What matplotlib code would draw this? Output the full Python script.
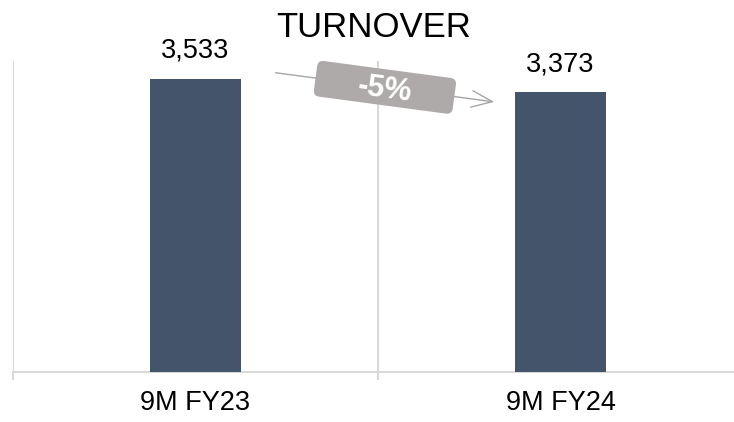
import math
import matplotlib
matplotlib.use("Agg")
import matplotlib.pyplot as plt
from matplotlib.patches import FancyBboxPatch
from matplotlib.transforms import Affine2D

# data
categories = ["9M FY23", "9M FY24"]
turnover = [3533, 3373]
change_label = "-5%"

plt.rcParams["font.family"] = ["Liberation Sans", "DejaVu Sans"]

BAR_COLOR = "#44546A"
GRID_COLOR = "#D9D9D9"
ARROW_COLOR = "#A6A6A6"
BOX_COLOR = "#AEAAAA"

W, H = 734, 422
fig = plt.figure(figsize=(W / 100, H / 100), dpi=100)
ax = fig.add_axes([13 / W, 1 - 372 / H, 730 / W, (372 - 61) / H])

x = list(range(len(categories)))
ax.bar(x, turnover, width=0.25, color=BAR_COLOR, zorder=3)
ax.set_xlim(-0.5, len(categories) - 0.5)
ax.set_ylim(0, 3745)

# value labels
for xi, v in zip(x, turnover):
    ax.annotate(f"{v:,}", (xi, v), xytext=(0, 15), textcoords="offset points",
                ha="center", va="baseline", fontsize=19.5, color="black")

# axes styling
for s in ["top", "right", "left"]:
    ax.spines[s].set_visible(False)
ax.spines["bottom"].set_color(GRID_COLOR)
ax.spines["bottom"].set_linewidth(1.5)
ax.set_yticks([])
ax.set_xticks(x)
ax.set_xticklabels(categories, fontsize=19.5)
ax.tick_params(axis="x", which="major", length=0, pad=13)
bounds = [i - 0.5 for i in range(len(categories) + 1)]
ax.set_xticks(bounds, minor=True)
ax.tick_params(axis="x", which="minor", length=6, width=1.5, color=GRID_COLOR)
ax.grid(axis="x", which="minor", color=GRID_COLOR, linewidth=1.5, zorder=0)
ax.grid(axis="x", which="major", visible=False)

# change arrow between bars
start = (0.212, turnover[0] + 75)
end = (0.826, turnover[1] - 125)
ax.annotate("", xy=end, xytext=start,
            arrowprops=dict(arrowstyle="->,head_length=1.5,head_width=0.6",
                            color=ARROW_COLOR, lw=1.0), zorder=4)

# rotated label box on the arrow
p0 = ax.transData.transform(start)
p1 = ax.transData.transform(end)
cx, cy = (p0 + p1) / 2
ang = math.degrees(math.atan2(p1[1] - p0[1], p1[0] - p0[0]))
bw, bh = 140, 36
box = FancyBboxPatch((-bw / 2, -bh / 2), bw, bh,
                     boxstyle="round,pad=0,rounding_size=6",
                     facecolor=BOX_COLOR, edgecolor="none",
                     transform=Affine2D().rotate_deg(ang).translate(cx, cy),
                     zorder=5)
fig.patches.append(box)
fig.text(cx / W, (cy - 2) / H, change_label, rotation=ang, rotation_mode="anchor",
         ha="center", va="center", fontsize=22, fontweight="bold",
         color="white", zorder=6)

fig.text(373.5 / W, 1 - 37 / H, "TURNOVER", ha="center", va="baseline",
         fontsize=25, color="black")

fig.savefig("out.png", dpi=100)
